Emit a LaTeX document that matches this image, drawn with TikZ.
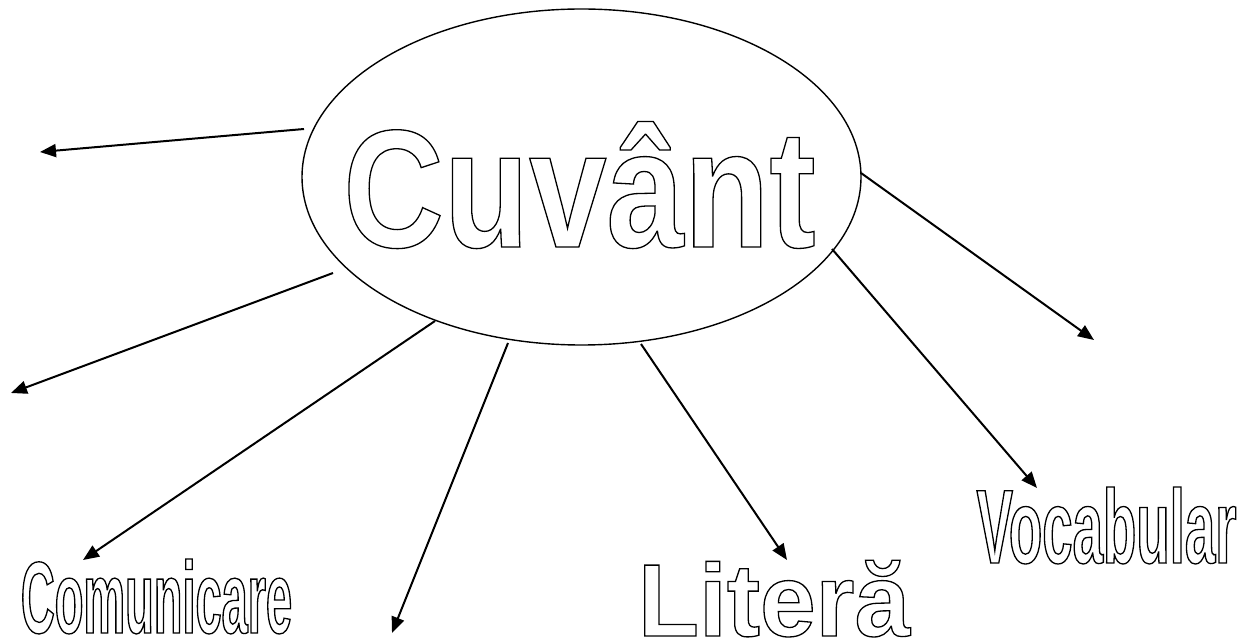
\documentclass[tikz,border=0pt]{standalone}
\usepackage{fontspec}
\usetikzlibrary{arrows.meta,shapes.geometric}

\newfontfamily\cuvfont[FakeStretch=0.83]{Liberation Sans Bold}
\newfontfamily\litfont[FakeStretch=0.97]{Liberation Sans Bold}
\newfontfamily\comfont[FakeStretch=0.46]{Liberation Sans Bold}
\newfontfamily\vocfont[FakeStretch=0.52]{Liberation Sans Bold}
\newcommand{\outlined}[1]{\special{pdf:literal direct 1 Tr 1.3 w}#1\special{pdf:literal direct 0 Tr}}

\begin{document}
\begin{tikzpicture}[x=1pt, y=-1pt,
  hub/.style={draw, ellipse, line width=1.4pt, minimum width=559pt, minimum height=336pt, inner sep=0pt},
  word/.style={anchor=base, inner sep=0pt},
  ptr/.style={-{Triangle[length=16pt,width=13pt]}, line width=2pt}]
\useasboundingbox (0,0) rectangle (1251,644);

\node[hub] (cuv) at (581.5,177) {};
\node[word] (cuvlabel) at (579.5,247) {\fontsize{168}{170}\cuvfont\outlined{Cuvânt}};

\node[word] (com) at (156.5,633) {\fontsize{102}{104}\comfont\outlined{Comunicare}};
\node[word] (lit) at (774,636) {\fontsize{103}{105}\litfont\outlined{Literă}};
\node[word] (voc) at (1106.5,563) {\fontsize{105}{107}\vocfont\outlined{Vocabular}};

% start points next to the ellipse
\coordinate (s1) at (304,129);
\coordinate (s2) at (333,273);
\coordinate (s3) at (435,321);
\coordinate (s4) at (508,343);
\coordinate (s5) at (641,344);
\coordinate (s6) at (832,249);
\coordinate (s7) at (861,173);
% tips
\coordinate (e1) at (40,152);
\coordinate (e2) at (11,393);
\coordinate (e3) at (83,560);
\coordinate (e4) at (392,633);
\coordinate (e5) at (787,560);
\coordinate (e6) at (1037,488);
\coordinate (e7) at (1094,340);

\foreach \i in {1,...,7}
  \draw[ptr] (s\i) -- (e\i);
\end{tikzpicture}
\end{document}
